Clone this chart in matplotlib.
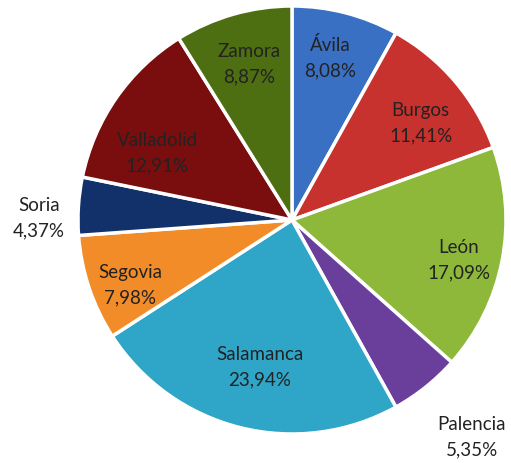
import matplotlib
matplotlib.use("Agg")
import matplotlib.pyplot as plt

provinces = ["Ávila", "Burgos", "León", "Palencia", "Salamanca", "Segovia", "Soria", "Valladolid", "Zamora"]
shares = [8.08, 11.41, 17.09, 5.35, 23.94, 7.98, 4.37, 12.91, 8.87]
colors = ["#3A70C4", "#C8322E", "#8DB83A", "#6A3F9C", "#2FA6C8", "#F28C28", "#12316A", "#7A0E0E", "#4E6E12"]
label_pos = [(0.178, 0.765), (0.601, 0.455), (0.779, -0.183), (0.840, -1.009), (-0.150, -0.685),
             (-0.756, -0.300), (-1.183, 0.014), (-0.629, 0.315), (-0.202, 0.732)]

W, H = 511, 464
fig = plt.figure(figsize=(W / 100, H / 100), dpi=100)
cx, cy, r = 292, 221, 214
ax = fig.add_axes([(cx - r) / W, (H - cy - r) / H, 2 * r / W, 2 * r / H])
ax.pie(shares, colors=colors, startangle=90, counterclock=False,
       wedgeprops=dict(edgecolor="white", linewidth=2.5), radius=1)
ax.set_xlim(-1, 1)
ax.set_ylim(-1, 1)
ax.set_aspect("equal")
ax.axis("off")
for name, val, (x, y) in zip(provinces, shares, label_pos):
    txt = f"{name}\n{val:.2f}%".replace(".", ",")
    ax.text(x, y, txt, ha="center", va="center", fontsize=13.5, family="Lato",
            color="#222222", linespacing=1.6, clip_on=False)
fig.savefig("out.png", dpi=100)
